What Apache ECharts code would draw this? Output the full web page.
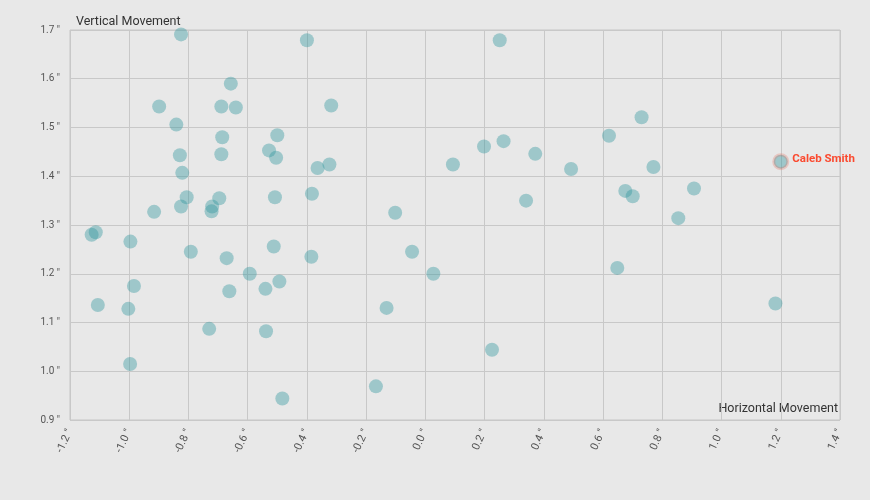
<!DOCTYPE html>
<html>
<head>
<meta charset="utf-8">
<script src="https://cdn.jsdelivr.net/npm/echarts@6/dist/echarts.min.js"></script>
<style>
html,body{margin:0;padding:0;background:#e8e8e8;}
#chart{width:870px;height:500px;}
</style>
</head>
<body>
<div id="chart"></div>
<script>
// Horizontal movement (inches) of each pitcher
var horizontal = [
  -0.825, -0.657, -0.899, -0.689, -0.640, -0.841, -0.686, -0.500, -0.528, -0.504,
  -0.829, -0.689, -0.821, -0.806, -0.825, -0.696, -0.508, -0.720, -0.722, -0.916,
  -1.127, -1.113, -0.996, -0.792, -0.671, -0.593, -0.512, -0.493, -0.540, -0.662,
  -0.984, -1.106, -1.003, -0.730, -0.538, -0.997, -0.483,
  -0.400, 0.251, -0.318, 0.198, 0.264, 0.371, 0.093, 0.492, -0.324, -0.364, -0.383,
  0.340, -0.102, -0.385, -0.045, 0.027, -0.131, 0.225, -0.167,
  0.730, 0.620, 0.770, 0.675, 0.700, 0.907, 0.854, 0.648, 1.182
];
// Vertical movement (inches) of each pitcher
var vertical = [
  1.691, 1.590, 1.543, 1.543, 1.541, 1.506, 1.480, 1.484, 1.453, 1.438,
  1.443, 1.445, 1.407, 1.357, 1.338, 1.355, 1.357, 1.338, 1.328, 1.327,
  1.280, 1.285, 1.266, 1.245, 1.232, 1.200, 1.256, 1.184, 1.169, 1.164,
  1.175, 1.136, 1.128, 1.087, 1.082, 1.015, 0.944,
  1.679, 1.679, 1.545, 1.461, 1.472, 1.446, 1.424, 1.415, 1.424, 1.417, 1.364,
  1.350, 1.325, 1.235, 1.245, 1.200, 1.130, 1.044, 0.969,
  1.521, 1.483, 1.419, 1.370, 1.359, 1.375, 1.314, 1.212, 1.139
];
// Highlighted pitcher
var highlightName = ["Caleb Smith"];
var highlightH = [1.2];
var highlightV = [1.43];

// Axis ticks
var xTicks = [-1.2, -1.0, -0.8, -0.6, -0.4, -0.2, 0.0, 0.2, 0.4, 0.6, 0.8, 1.0, 1.2, 1.4];
var yTicks = [0.9, 1.0, 1.1, 1.2, 1.3, 1.4, 1.5, 1.6, 1.7];

var points = horizontal.map(function (h, i) { return [h, vertical[i]]; });
var hiPoints = highlightH.map(function (h, i) { return { value: [h, highlightV[i]], name: highlightName[i] }; });

var chart = echarts.init(document.getElementById('chart'));
chart.setOption({
  backgroundColor: '#e8e8e8',
  animation: false,
  textStyle: { fontFamily: 'Roboto' },
  grid: {
    left: 70, right: 30, top: 30, bottom: 80,
    show: true, borderColor: '#c6c6c6', borderWidth: 1, backgroundColor: 'transparent'
  },
  xAxis: {
    type: 'value',
    min: xTicks[0], max: xTicks[xTicks.length - 1], interval: 0.2,
    axisLine: { show: false },
    axisTick: { show: false },
    splitLine: { show: true, lineStyle: { color: '#c8c8c8', width: 1 } },
    axisLabel: {
      rotate: 65, color: '#555', fontSize: 11, margin: 10,
      formatter: function (v) { return v.toFixed(1) + ' \u2033'; }
    }
  },
  yAxis: {
    type: 'value',
    min: yTicks[0], max: yTicks[yTicks.length - 1], interval: 0.1,
    axisLine: { show: false },
    axisTick: { show: false },
    splitLine: { show: true, lineStyle: { color: '#c8c8c8', width: 1 } },
    axisLabel: {
      color: '#555', fontSize: 10, margin: 10,
      formatter: function (v) { return v.toFixed(1) + ' \u2033'; }
    }
  },
  graphic: [
    { type: 'text', left: 76, top: 15, style: { text: 'Vertical Movement', fill: '#333', font: '12.5px Roboto' } },
    { type: 'text', right: 32, top: 402, style: { text: 'Horizontal Movement', fill: '#333', font: '12.5px Roboto' } }
  ],
  series: [
    {
      type: 'scatter',
      data: points,
      symbolSize: 14,
      itemStyle: { color: 'rgba(48,150,158,0.5)' },
      z: 2
    },
    {
      type: 'scatter',
      data: hiPoints,
      symbolSize: 14,
      itemStyle: { color: 'rgba(48,150,158,0.5)', borderColor: 'rgba(230,90,70,0.3)', borderWidth: 3 },
      label: {
        show: true, position: 'right', distance: 3,
        formatter: '{b}', color: '#ff2200', fontSize: 11.5, fontWeight: 'bold',
        offset: [0, -3]
      },
      z: 3
    }
  ]
});
</script>
</body>
</html>
